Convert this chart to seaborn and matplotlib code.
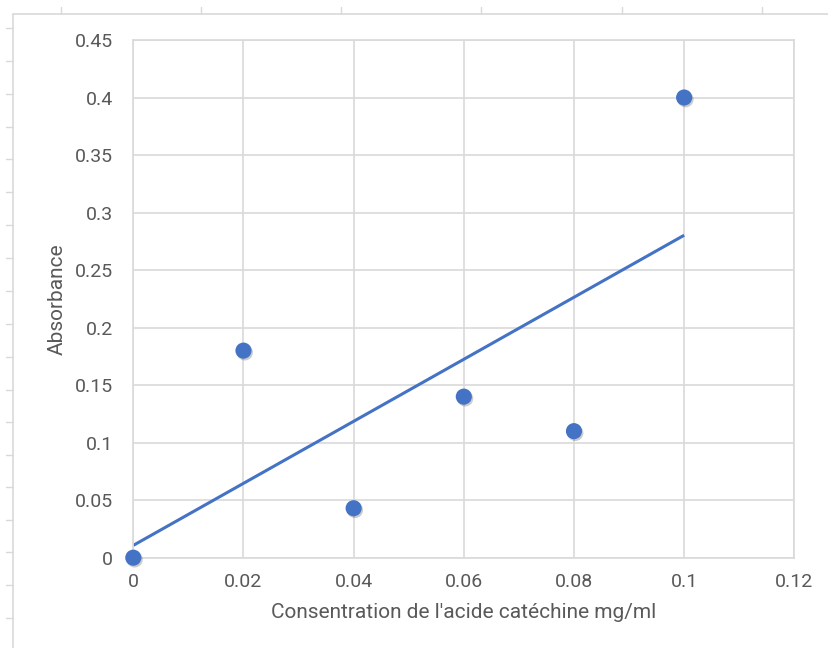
import matplotlib
matplotlib.use("Agg")
import matplotlib.pyplot as plt
import matplotlib.patheffects as pe
from matplotlib.lines import Line2D
import numpy as np
import pandas as pd
import seaborn as sns

# Calibration data: catechin concentration vs absorbance
concentration = [0.0, 0.02, 0.04, 0.06, 0.08, 0.10]
absorbance = [0.0, 0.18, 0.043, 0.14, 0.11, 0.40]
x_ticks = [0, 0.02, 0.04, 0.06, 0.08, 0.1, 0.12]
x_tick_labels = ["0", "0.02", "0.04", "0.06", "0.08", "0.1", "0.12"]
y_ticks = [0, 0.05, 0.1, 0.15, 0.2, 0.25, 0.3, 0.35, 0.4, 0.45]
y_tick_labels = ["0", "0.05", "0.1", "0.15", "0.2", "0.25", "0.3", "0.35", "0.4", "0.45"]

df = pd.DataFrame({"conc": concentration, "abs": absorbance})

sns.set_style("white")
plt.rcParams["font.family"] = ["Roboto", "DejaVu Sans"]

BLUE = "#4472C4"
GRID = "#D9D9D9"
TEXT = "#595959"

W, H = 829, 648
fig = plt.figure(figsize=(W / 100, H / 100), dpi=100)
fig.patch.set_facecolor("white")

# Worksheet cell ticks around the chart frame
for xp in [61, 201, 341, 481, 622, 762]:
    fig.add_artist(Line2D([xp / W, xp / W], [1 - 7 / H, 1 - 14 / H], color=GRID, lw=1))
for yp in [28, 61, 94, 127, 159, 192, 225, 258, 291, 324, 357, 390, 422, 455, 487, 520, 552, 585, 618]:
    fig.add_artist(Line2D([6 / W, 13 / W], [1 - yp / H, 1 - yp / H], color=GRID, lw=1))
# Chart frame
fig.add_artist(Line2D([13 / W, 13 / W], [0, 1 - 14 / H], color=GRID, lw=1.2))
fig.add_artist(Line2D([13 / W, 1], [1 - 14 / H, 1 - 14 / H], color=GRID, lw=1.2))

left, right = 133.3 / W, 794.3 / W
bottom, top = 1 - 557.7 / H, 1 - 40 / H
ax = fig.add_axes([left, bottom, right - left, top - bottom])

# Linear trendline fitted to the measurements, then the measured points
sns.regplot(data=df, x="conc", y="abs", ax=ax, scatter=False, ci=None,
            line_kws=dict(color=BLUE, lw=2.2, solid_capstyle="butt"))
sns.scatterplot(data=df, x="conc", y="abs", ax=ax, s=135, color=BLUE,
                edgecolor="none", zorder=5, clip_on=False)
for coll in ax.collections:
    coll.set_path_effects([pe.SimplePatchShadow(offset=(1.0, -1.3), alpha=0.2,
                                                shadow_rgbFace="black"), pe.Normal()])

ax.set_xlim(0, 0.12)
ax.set_ylim(0, 0.45)
ax.set_xticks(x_ticks)
ax.set_xticklabels(x_tick_labels)
ax.set_yticks(y_ticks)
ax.set_yticklabels(y_tick_labels)
ax.grid(True, color=GRID, lw=1.2)
ax.set_axisbelow(True)
for sp in ax.spines.values():
    sp.set_color(GRID)
    sp.set_linewidth(1.2)
ax.tick_params(axis="both", length=0, labelsize=14, labelcolor=TEXT)
ax.tick_params(axis="x", pad=11)
ax.tick_params(axis="y", pad=14.5)

ax.set_xlabel("Consentration de l'acide catéchine mg/ml", fontsize=15, color=TEXT)
ax.set_ylabel("Absorbance", fontsize=15, color=TEXT)
ax.xaxis.set_label_coords(0.5, -0.0875)
ax.yaxis.set_label_coords(-0.1, 0.5)

fig.savefig("out.png", dpi=100)
